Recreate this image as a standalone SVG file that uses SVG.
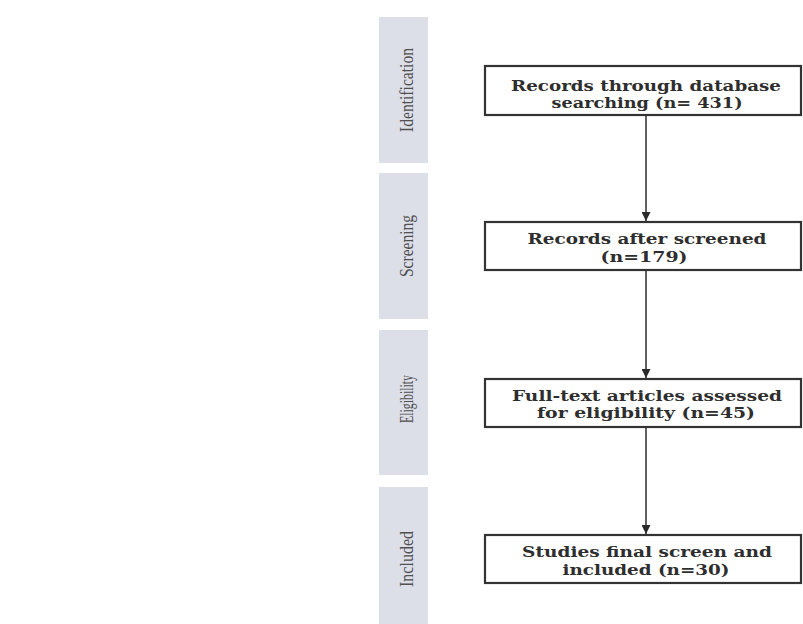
<svg xmlns="http://www.w3.org/2000/svg" width="803" height="624" viewBox="0 0 803 624">
<defs>
<style>
.bar{fill:#dcdee8}
.bl{font-family:"Liberation Serif","Times New Roman",serif;font-size:18px;fill:#505050;text-anchor:middle}
.box{fill:#fff;stroke:#333;stroke-width:2.2}
.bt{font-family:"DejaVu Serif","Liberation Serif",serif;font-weight:bold;font-size:15px;fill:#2e2e2e;text-anchor:middle}
.con{stroke:#3a3a3a;stroke-width:1.6;fill:none}
</style>
<marker id="ah" viewBox="0 0 10 10" refX="10" refY="5" markerWidth="9" markerHeight="9" markerUnits="userSpaceOnUse" orient="auto">
<path d="M0,0 L10,5 L0,10 Z" fill="#2a2a2a"/>
</marker>
</defs>
<rect width="803" height="624" fill="#fff"/>
<g id="stage-identification">
<rect class="bar" x="379" y="17" width="49" height="146"/>
<text class="bl" transform="translate(413,90) rotate(-90)" textLength="84" lengthAdjust="spacingAndGlyphs">Identification</text>
</g>
<g id="stage-screening">
<rect class="bar" x="379" y="173" width="49" height="146"/>
<text class="bl" transform="translate(413,246) rotate(-90)" textLength="62" lengthAdjust="spacingAndGlyphs">Screening</text>
</g>
<g id="stage-eligibility">
<rect class="bar" x="379" y="330" width="49" height="145"/>
<text class="bl" transform="translate(413,399) rotate(-90)" textLength="48" lengthAdjust="spacingAndGlyphs">Eligibility</text>
</g>
<g id="stage-included">
<rect class="bar" x="379" y="487" width="49" height="140"/>
<text class="bl" transform="translate(413,559) rotate(-90)" textLength="56" lengthAdjust="spacingAndGlyphs">Included</text>
</g>
<g id="connectors">
<line class="con" x1="646" y1="116" x2="646" y2="221" marker-end="url(#ah)"/>
<line class="con" x1="646" y1="271" x2="646" y2="378" marker-end="url(#ah)"/>
<line class="con" x1="646" y1="428" x2="646" y2="534" marker-end="url(#ah)"/>
</g>
<g id="records-database">
<rect class="box" x="485" y="66" width="316" height="49"/>
<text class="bt" x="646" y="91" textLength="270" lengthAdjust="spacingAndGlyphs">Records through database</text>
<text class="bt" x="647" y="108" textLength="191" lengthAdjust="spacingAndGlyphs">searching (n= 431)</text>
</g>
<g id="records-screened">
<rect class="box" x="485" y="222" width="316" height="48"/>
<text class="bt" x="647" y="244" textLength="239" lengthAdjust="spacingAndGlyphs">Records after screened</text>
<text class="bt" x="644" y="262" textLength="87" lengthAdjust="spacingAndGlyphs">(n=179)</text>
</g>
<g id="full-text">
<rect class="box" x="485" y="379" width="316" height="48"/>
<text class="bt" x="647" y="401" textLength="270" lengthAdjust="spacingAndGlyphs">Full-text articles assessed</text>
<text class="bt" x="646" y="418" textLength="218" lengthAdjust="spacingAndGlyphs">for eligibility (n=45)</text>
</g>
<g id="studies-included">
<rect class="box" x="485" y="535" width="316" height="48"/>
<text class="bt" x="647" y="557" textLength="250" lengthAdjust="spacingAndGlyphs">Studies final screen and</text>
<text class="bt" x="646" y="575" textLength="167" lengthAdjust="spacingAndGlyphs">included (n=30)</text>
</g>
</svg>
